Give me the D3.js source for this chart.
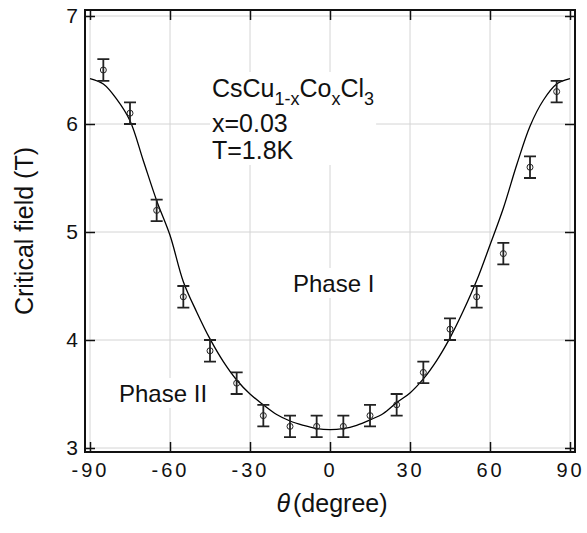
<!DOCTYPE html>
<html>
<head>
<meta charset="utf-8">
<script src="https://cdn.jsdelivr.net/npm/d3@7"></script>
<style>
  body { margin: 0; background: #fff; }
  svg { display: block; font-family: Arial, "Liberation Sans", sans-serif; }
</style>
</head>
<body>
<svg width="587" height="533"></svg>
<script>
// measured points: angle (deg), critical field (T), error bar half height
const angles = [-85, -75, -65, -55, -45, -35, -25, -15, -5, 5, 15, 25, 35, 45, 55, 65, 75, 85];
const fields = [6.5, 6.1, 5.2, 4.4, 3.9, 3.6, 3.3, 3.2, 3.2, 3.2, 3.3, 3.4, 3.7, 4.1, 4.4, 4.8, 5.6, 6.3];
const errors = [0.1, 0.1, 0.1, 0.1, 0.1, 0.1, 0.1, 0.1, 0.1, 0.1, 0.1, 0.1, 0.1, 0.1, 0.1, 0.1, 0.1, 0.1];

// fitted line
const fitAngles = [-90, -85, -80, -75, -70, -65, -60, -55, -50, -45, -40, -35, -30, -25, -20, -15, -10, -5, 0,
                   5, 10, 15, 20, 25, 30, 35, 40, 45, 50, 55, 60, 65, 70, 75, 80, 85, 90];
const fitFields = [6.42, 6.37, 6.23, 6.03, 5.66, 5.29, 4.97, 4.54, 4.26, 4.01, 3.80, 3.63, 3.50, 3.40, 3.31, 3.25, 3.21, 3.18, 3.17,
                   3.18, 3.21, 3.26, 3.32, 3.42, 3.51, 3.64, 3.81, 4.02, 4.27, 4.55, 4.88, 5.22, 5.62, 5.98, 6.22, 6.37, 6.42];

const xTicks = [-90, -60, -30, 0, 30, 60, 90];
const yTicks = [3, 4, 5, 6, 7];

function draw () {
  let svg = d3.select('svg');

  let frame = { left: 85, right: 575, top: 10, bottom: 452 };

  let x = d3.scaleLinear().domain([-90, 90]).range([90, 570]),
      y = d3.scaleLinear().domain([3, 7]).range([448, 16]);

  // Grid
  let grid = svg.append('g').attr('class', 'grid')
    .attr('stroke', '#d4d4d4')
    .attr('stroke-width', 1);

  grid.selectAll('.gx').data(xTicks)
    .enter().append('line')
      .attr('x1', d => x(d)).attr('x2', d => x(d))
      .attr('y1', frame.top).attr('y2', frame.bottom);

  grid.selectAll('.gy').data(yTicks)
    .enter().append('line')
      .attr('x1', frame.left).attr('x2', frame.right)
      .attr('y1', d => y(d)).attr('y2', d => y(d));

  // Labels inside the plot, each on a white patch that hides the grid
  let notes = svg.append('g').attr('class', 'notes');

  let chem = notes.append('text')
    .attr('x', 212)
    .attr('y', 97)
    .attr('font-size', 25)
    .attr('fill', '#111');
  chem.append('tspan').text('CsCu');
  chem.append('tspan').attr('font-size', 18).attr('dy', 8).text('1-x');
  chem.append('tspan').attr('dy', -8).text('Co');
  chem.append('tspan').attr('font-size', 18).attr('dy', 8).text('x');
  chem.append('tspan').attr('dy', -8).text('Cl');
  chem.append('tspan').attr('font-size', 18).attr('dy', 8).text('3');

  notes.append('text').attr('x', 212).attr('y', 132).attr('font-size', 25).attr('fill', '#111').text('x=0.03');
  notes.append('text').attr('x', 212).attr('y', 159).attr('font-size', 25).attr('fill', '#111').text('T=1.8K');

  notes.append('text').attr('x', 293).attr('y', 292).attr('font-size', 24).attr('fill', '#111').text('Phase I');
  notes.append('text').attr('x', 119).attr('y', 402).attr('font-size', 24).attr('fill', '#111').text('Phase II');

  let boxes = [
    [0, 1, 2],
    [3],
    [4]
  ];
  let texts = notes.selectAll('text').nodes();
  boxes.forEach(group => {
    let bb = group.map(i => texts[i].getBBox());
    let x0 = d3.min(bb, b => b.x) - 2,
        x1 = d3.max(bb, b => b.x + b.width) + 2,
        y0 = d3.min(bb, b => b.y) - 2,
        y1 = d3.max(bb, b => b.y + b.height) + 1;
    notes.insert('rect', 'text')
      .attr('x', x0).attr('y', y0)
      .attr('width', x1 - x0).attr('height', y1 - y0)
      .attr('fill', '#fff');
  });

  // Fitted curve
  let line = d3.line()
    .x((d, i) => x(fitAngles[i]))
    .y(d => y(d))
    .curve(d3.curveCatmullRom);

  svg.append('path')
    .datum(fitFields)
    .attr('fill', 'none')
    .attr('stroke', '#000')
    .attr('stroke-width', 1.3)
    .attr('d', line);

  // Error bars and points
  let pts = svg.append('g').attr('class', 'points')
    .selectAll('g').data(angles)
    .enter().append('g');

  pts.append('path')
    .attr('fill', 'none')
    .attr('stroke', '#222')
    .attr('stroke-width', 1.8)
    .attr('d', (d, i) => {
      let cx = x(d), hi = y(fields[i] + errors[i]), lo = y(fields[i] - errors[i]);
      return `M${cx - 6},${hi}H${cx + 6}M${cx},${hi}V${lo}M${cx - 6},${lo}H${cx + 6}`;
    });

  pts.append('circle')
    .attr('cx', d => x(d))
    .attr('cy', (d, i) => y(fields[i]))
    .attr('r', 3)
    .attr('fill', 'none')
    .attr('stroke', '#222')
    .attr('stroke-width', 1);

  // Axes, ticks pointing inward on all four sides
  let bottom = svg.append('g')
    .attr('transform', `translate(0, ${frame.bottom})`)
    .call(d3.axisBottom(x).tickValues(xTicks).tickSize(-10).tickSizeOuter(0).tickPadding(11)
      .tickFormat(d => String(d)));

  svg.append('g')
    .attr('transform', `translate(0, ${frame.top})`)
    .call(d3.axisTop(x).tickValues(xTicks).tickSize(-10).tickSizeOuter(0).tickFormat(''));

  let left = svg.append('g')
    .attr('transform', `translate(${frame.left}, 0)`)
    .call(d3.axisLeft(y).tickValues(yTicks).tickSize(-10).tickSizeOuter(0).tickPadding(7)
      .tickFormat(d => String(d)));

  svg.append('g')
    .attr('transform', `translate(${frame.right}, 0)`)
    .call(d3.axisRight(y).tickValues(yTicks).tickSize(-10).tickSizeOuter(0).tickFormat(''));

  svg.selectAll('.domain').remove();
  svg.selectAll('.tick line').attr('stroke', '#111').attr('stroke-width', 1.5);

  bottom.selectAll('text')
    .attr('font-size', 20)
    .attr('font-family', 'Arial, "Liberation Sans", sans-serif')
    .attr('letter-spacing', 3)
    .attr('fill', '#111');

  left.selectAll('text')
    .attr('font-size', 21)
    .attr('font-family', 'Arial, "Liberation Sans", sans-serif')
    .attr('fill', '#111');

  svg.append('rect')
    .attr('x', frame.left).attr('y', frame.top)
    .attr('width', frame.right - frame.left)
    .attr('height', frame.bottom - frame.top)
    .attr('fill', 'none')
    .attr('stroke', '#111')
    .attr('stroke-width', 2);

  // Axis titles
  svg.append('text')
    .attr('transform', `translate(33, ${(frame.top + frame.bottom) / 2}) rotate(-90)`)
    .attr('text-anchor', 'middle')
    .attr('font-size', 25)
    .attr('fill', '#111')
    .text('Critical field (T)');

  let xt = svg.append('text')
    .attr('x', 332)
    .attr('y', 512)
    .attr('text-anchor', 'middle')
    .attr('font-size', 25)
    .attr('fill', '#111');
  xt.append('tspan').attr('font-style', 'italic').text('θ');
  xt.append('tspan').attr('dx', 3).text('(degree)');
}

document.addEventListener('DOMContentLoaded', draw);
</script>
</body>
</html>
